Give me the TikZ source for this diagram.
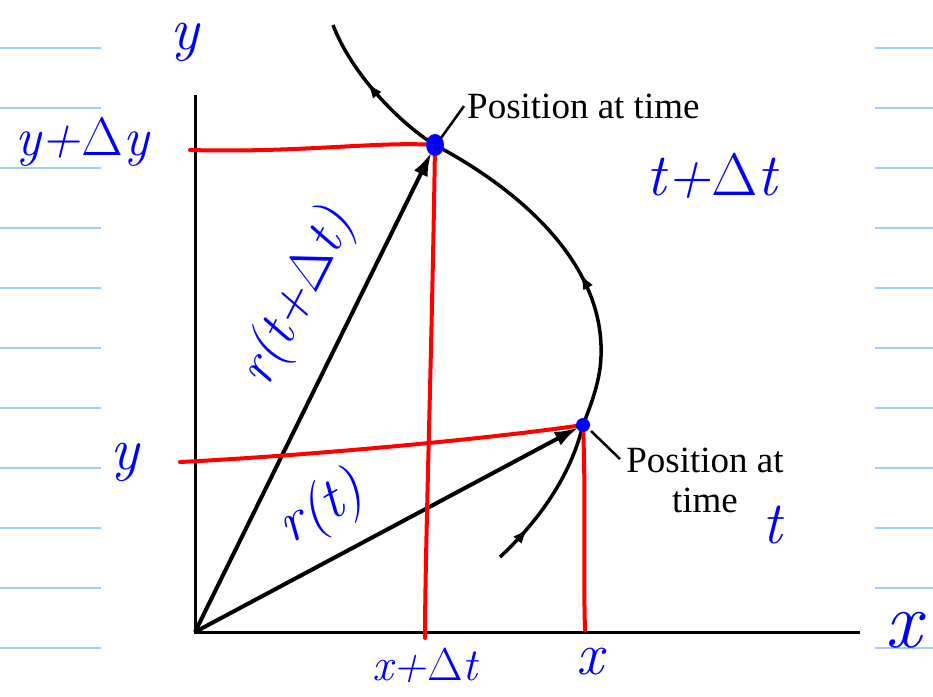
\documentclass[tikz,border=0pt]{standalone}
\usepackage{fontspec}
\newfontfamily\capfont{Liberation Serif}
\usetikzlibrary{arrows.meta,decorations.markings}

\tikzset{
  axis/.style={line width=3pt},
  path/.style={line width=3.5pt},
  vec/.style={line width=4pt,-{Latex[length=24pt,width=15pt]}},
  redline/.style={red,line width=4pt,line cap=round},
  leader/.style={line width=2.5pt},
  notebook/.style={color={rgb,255:red,160;green,205;blue,250},line width=2pt},
  hand/.style={blue,inner sep=1pt,font=\fontsize{60}{64}\selectfont\itshape},
  caption/.style={font=\capfont\fontsize{37}{40}\selectfont,align=center,inner sep=3pt},
  tip/.style={decoration={markings,
      mark=at position 0.06 with {\arrow{Latex[length=16pt,width=11pt]}},
      mark=at position 0.47 with {\arrow{Latex[length=16pt,width=11pt]}},
      mark=at position 0.90 with {\arrow{Latex[length=16pt,width=11pt]}}},
    postaction={decorate}}
}
\newcommand{\Dl}{\textup{Δ}}

\begin{document}
\begin{tikzpicture}[x=1pt,y=-1pt]
\useasboundingbox (0,0) rectangle (933,696);

% ruled paper
\foreach \ly in {48,108,...,648}{
  \draw[notebook] (0,\ly) -- (101,\ly);
  \draw[notebook] (875,\ly) -- (933,\ly);
}

\coordinate (O) at (195,632);
\coordinate (xend) at (860,632);
\coordinate (yend) at (195,95);
\coordinate (P1) at (583,425);
\coordinate (P2) at (435,145);
\coordinate (start) at (500,557);
\coordinate (right) at (601,345);
\coordinate (stop) at (333,25);

% axes
\draw[axis] (yend) -- (O) -- (xend);

% trajectory
\draw[path,tip] (start) .. controls (545,515) and (572,470) .. (P1)
  .. controls (597,390) and (602,370) .. (right)
  .. controls (598,260) and (520,190) .. (P2)
  .. controls (395,120) and (350,70) .. (stop);

% position vectors
\draw[vec,shorten >=8pt] (O) -- (P2);
\draw[vec,shorten >=5pt] (O) -- (P1);

% projections
\coordinate (ya) at (190,150);
\coordinate (yb) at (180,462);
\coordinate (xa) at (425,638);
\coordinate (xb) at (585,630);
\draw[redline] (ya) .. controls (300,153) and (380,141) .. (P2);
\draw[redline] (yb) .. controls (300,456) and (480,440) .. (P1);
\draw[redline] (P2) .. controls (432,350) and (425,550) .. (xa);
\draw[redline] (P1) .. controls (586,500) and (583,560) .. (xb);

\fill[blue] (P2) ellipse [x radius=9pt,y radius=11pt];
\fill[blue] (P1) circle [radius=7pt];

% captions
\node[caption,anchor=west] (cap1) at (464,106) {Position at time};
\node[caption] (cap2) at (705,480) {Position at\\time};
\coordinate (ld1) at (441,138);
\coordinate (ld2) at (591,431);
\coordinate (ld2e) at (620,459);
\draw[leader] (ld1) -- (cap1.west);
\draw[leader] (ld2) -- (ld2e);

% handwritten labels
\node[hand] (ylab) at (185,42) {y};
\node[hand,font=\fontsize{80}{84}\selectfont\itshape] (xlab) at (903,630) {x};
\node[hand,font=\fontsize{54}{58}\selectfont\itshape] (ydy) at (82,142) {y+\Dl y};
\node[hand] (yval) at (125,462) {y};
\node[hand] (tdt) at (712,176) {t+\Dl t};
\node[hand] (tval) at (772,525) {t};
\node[hand,font=\fontsize{46}{50}\selectfont\itshape] (xdt) at (425,665) {x+\Dl t};
\node[hand] (xval) at (590,662) {x};
\node[hand,rotate=63,font=\fontsize{56}{60}\selectfont\itshape] (rdt) at (298,298) {r(t+\Dl t)};
\node[hand,rotate=30,font=\fontsize{58}{62}\selectfont\itshape] (rt) at (322,510) {r(t)};
\end{tikzpicture}
\end{document}
